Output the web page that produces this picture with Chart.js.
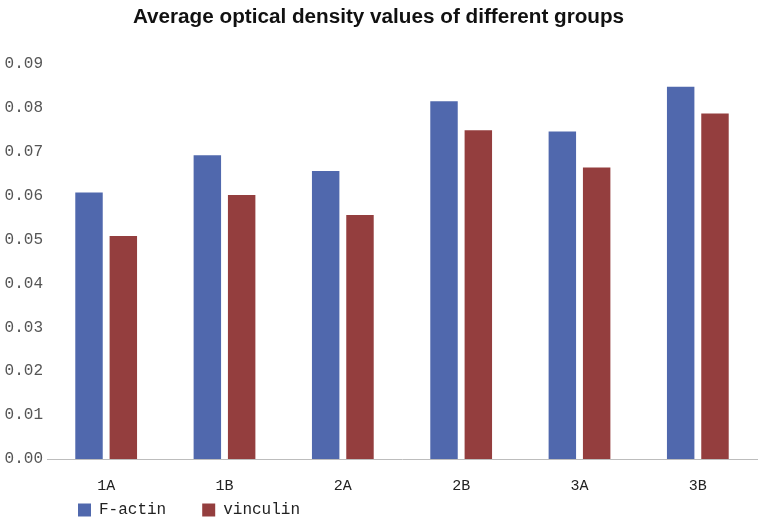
<!DOCTYPE html>
<html>
<head>
<meta charset="utf-8">
<script src="https://cdn.jsdelivr.net/npm/chart.js@4"></script>
<style>
  html, body { margin: 0; padding: 0; background: #fff; }
  #wrap { width: 763px; height: 524px; }
</style>
</head>
<body>
<div id="wrap"><canvas id="grafico"></canvas></div>
<script>
// datos
const categorias = ["1A", "1B", "2A", "2B", "3A", "3B"];
const fActin = [0.0607, 0.0692, 0.0656, 0.0815, 0.0746, 0.0848];
const vinculin = [0.0508, 0.0601, 0.0556, 0.0749, 0.0664, 0.0787];
const ticksY = [0, 0.01, 0.02, 0.03, 0.04, 0.05, 0.06, 0.07, 0.08, 0.09];

const fuenteMono = "'Liberation Mono', 'DejaVu Sans Mono', monospace";

// coloca la leyenda donde esta en la figura original
const posLeyenda = {
  id: "posLeyenda",
  afterLayout(chart) {
    const leyenda = chart.legend;
    const pad = leyenda.options.labels.padding;
    leyenda.left = 78 - pad;
    leyenda.top = 510 - pad - 8;
  },
};

const ctx = document.getElementById("grafico").getContext("2d");
new Chart(ctx, {
  type: "bar",
  data: {
    labels: categorias,
    datasets: [
      { label: "F-actin", data: fActin, backgroundColor: "#5068ad" },
      { label: "vinculin", data: vinculin, backgroundColor: "#943e3e" },
    ],
  },
  plugins: [posLeyenda],
  options: {
    responsive: true,
    maintainAspectRatio: false,
    animation: false,
    categoryPercentage: 0.58,
    barPercentage: 0.8,
    layout: { padding: { left: 0, right: 6, top: 0, bottom: 0 } },
    plugins: {
      title: {
        display: true,
        text: "Average optical density values of different groups",
        color: "#111",
        font: { family: "'Liberation Sans', Arial, sans-serif", size: 20.7, weight: "bold" },
        padding: { top: 5, bottom: 34 },
      },
      legend: {
        position: "bottom",
        align: "start",
        maxHeight: 19,
        labels: {
          color: "#222",
          boxWidth: 13,
          boxHeight: 13,
          padding: 36,
          font: { family: fuenteMono, size: 16 },
        },
      },
      tooltip: { enabled: false },
    },
    scales: {
      x: {
        grid: { display: false },
        border: { display: true, color: "#bdbdbd", width: 1 },
        ticks: { color: "#222", font: { family: fuenteMono, size: 15 }, padding: 10 },
      },
      y: {
        min: 0,
        max: 0.09,
        afterFit: (escala) => { escala.width = 47; },
        afterBuildTicks: (escala) => { escala.ticks = ticksY.map((v) => ({ value: v })); },
        grid: { display: false, tickLength: 0 },
        border: { display: false },
        ticks: {
          color: "#555",
          padding: 4,
          font: { family: fuenteMono, size: 16 },
          callback: (v) => v.toFixed(2),
        },
      },
    },
  },
});
</script>
</body>
</html>
